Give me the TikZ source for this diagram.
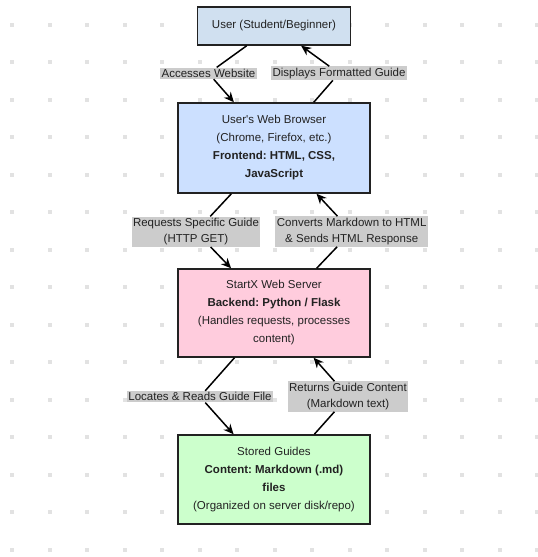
\documentclass[tikz,border=0pt]{standalone}
\usepackage{fontspec}
\setmainfont{Liberation Sans}
\usepackage{xcolor}
\usetikzlibrary{arrows.meta}
\frenchspacing

\definecolor{userfill}{HTML}{D0E0F0}
\definecolor{browserfill}{HTML}{CCE0FF}
\definecolor{serverfill}{HTML}{FFCCDD}
\definecolor{storefill}{HTML}{CCFFCC}
\definecolor{lblfill}{HTML}{CCCCCC}
\definecolor{dotgray}{HTML}{E2E2E2}
\definecolor{ink}{HTML}{222222}

\tikzset{
	box/.style={draw=ink, line width=1.5pt, text=ink, align=center,
		font=\fontsize{11.5}{18}\selectfont, inner sep=0pt},
	lbl/.style={fill=lblfill, text=ink, align=center, inner sep=1.5pt,
		font=\fontsize{11.5}{16.5}\selectfont},
	edge/.style={draw=black, line width=1.5pt},
	tip/.style={edge, -{Stealth[length=10pt,width=9pt]}}
}

\begin{document}
\begin{tikzpicture}[x=1pt,y=-1pt]
			%\draw[help lines] (0,0) grid (538,557);
			\useasboundingbox[fill=white] (0,0) rectangle (538,557);
			
			% dotted background
			\foreach \i in {0,...,14}
			\foreach \j in {0,...,14}
			\fill[dotgray] (10+37.5*\i,22.5+37.5*\j) rectangle +(4,4);
			
			\node[box, fill=userfill, minimum width=153, minimum height=38] (user) at (274,26) {User (Student/Beginner)};
			\node[box, fill=browserfill, minimum width=192, minimum height=90] (browser) at (274,148)
			{User\textquotesingle s Web Browser\\(Chrome, Firefox, etc.)\\\textbf{Frontend: HTML, CSS,}\\\textbf{JavaScript}};
			\node[box, fill=serverfill, minimum width=192, minimum height=88] (server) at (274,313)
			{StartX Web Server\\\textbf{Backend: Python / Flask}\\(Handles requests, processes\\content)};
			\node[box, fill=storefill, minimum width=192, minimum height=89] (store) at (274,479.5)
			{Stored Guides\\\textbf{Content: Markdown (.md)}\\\textbf{files}\\(Organized on server disk/repo)};
			
			\node[lbl] (accesses) at (208.5,73.3) {Accesses Website};
			\node[lbl] (displays) at (339,73.3) {Displays Formatted Guide};
			\node[lbl] (requests) at (196,231.7) {Requests Specific Guide\\(HTTP GET)};
			\node[lbl] (converts) at (351.7,231.5) {Converts Markdown to HTML\\\& Sends HTML Response};
			\node[lbl] (locates) at (200,396.7) {Locates \& Reads Guide File};
			\node[lbl] (returns) at (348,396.5) {Returns Guide Content\\(Markdown text)};
			
			\draw[edge] (user) -- (accesses);
			\draw[tip] (accesses) -- (browser);
			\draw[edge] (browser) -- (displays);
			\draw[tip] (displays) -- (user);
			\draw[edge] (browser) -- (requests);
			\draw[tip] (requests) -- (server);
			\draw[edge] (server) -- (converts);
			\draw[tip] (converts) -- (browser);
			\draw[edge] (server) -- (locates);
			\draw[tip] (locates) -- (store);
			\draw[edge] (store) -- (returns);
			\draw[tip] (returns) -- (server);
\end{tikzpicture}
\end{document}
